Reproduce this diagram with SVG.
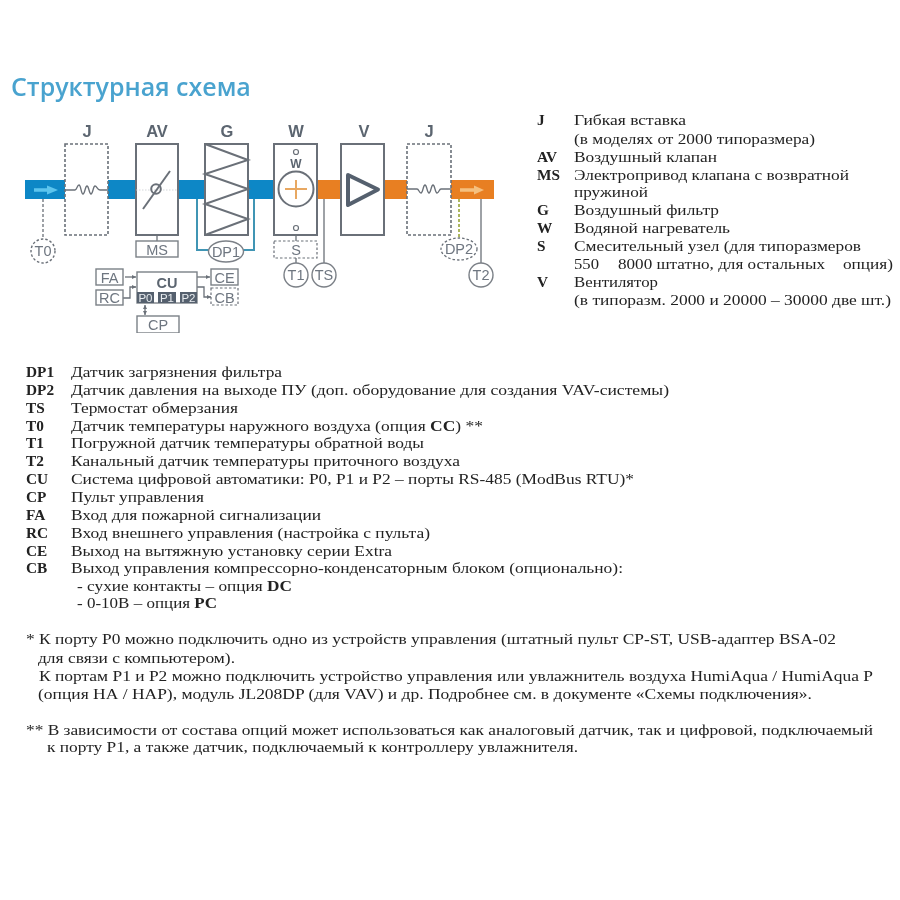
<svg xmlns="http://www.w3.org/2000/svg" width="900" height="900" viewBox="0 0 900 900">
<style>
.t{font-family:"Liberation Serif",serif;font-size:15.300px;fill:#222}
.b{font-weight:bold}
.h{font-family:"Open Sans","Liberation Sans",sans-serif;font-size:25px;font-weight:600;fill:#4aa3cf}
.l{font-family:"Liberation Sans",sans-serif;font-size:16.500px;font-weight:bold;fill:#5b6570;text-anchor:middle}
.n{font-family:"Liberation Sans",sans-serif;font-size:14.500px;fill:#6e7680;text-anchor:middle}
.box{fill:#fff;stroke:#6a7078;stroke-width:2}
.thin{fill:#fff;stroke:#7b8087;stroke-width:1.4}
.dash{fill:#fff;stroke:#6a7078;stroke-width:1.6;stroke-dasharray:3 2}
.dash2{fill:#fff;stroke:#6a7078;stroke-width:1.2;stroke-dasharray:2.5 2}
.line{fill:none;stroke:#6a7078;stroke-width:1.3}
.teal{fill:none;stroke:#3f95b4;stroke-width:2}
.blue{fill:#0f87c6}
.orange{fill:#e87f24}
.p{fill:#55616e}
.pt{font-family:"Liberation Sans",sans-serif;font-size:11.500px;fill:#e8ecf0;text-anchor:middle}
</style>
<defs>
<marker id="a" markerUnits="userSpaceOnUse" markerWidth="4" markerHeight="4" refX="4" refY="2" orient="auto"><path d="M0 0L4 2L0 4z" fill="#6a7078"/></marker>
<marker id="as" markerUnits="userSpaceOnUse" markerWidth="4" markerHeight="4" refX="0" refY="2" orient="auto"><path d="M4 0L0 2L4 4z" fill="#6a7078"/></marker>
<filter id="soft" x="0" y="0" width="100%" height="100%"><feGaussianBlur stdDeviation="0.45"/></filter>
<filter id="softer" x="0" y="0" width="100%" height="100%"><feGaussianBlur stdDeviation="0.25"/></filter>
</defs>
<rect width="900" height="900" fill="#fff"/>
<text class="h" x="11" y="96" filter="url(#soft)">Структурная схема</text>
<g filter="url(#soft)">
<g id="duct">
<rect class="blue" x="25" y="180" width="40" height="19"/>
<rect class="blue" x="108" y="180" width="28" height="19"/>
<rect class="blue" x="178" y="180" width="27" height="19"/>
<rect class="blue" x="248" y="180" width="26" height="19"/>
<rect class="orange" x="317" y="180" width="24" height="19"/>
<rect class="orange" x="384" y="180" width="23" height="19"/>
<rect class="orange" x="451" y="180" width="43" height="19"/>
<path d="M34 190H52" stroke="#5cc5ee" stroke-width="3.500" fill="none"/><path d="M47 185.500L58 190L47 194.500z" fill="#5cc5ee"/>
<path d="M460 190H478" stroke="#f5c07f" stroke-width="3.500" fill="none"/><path d="M474 185.500L484 190L474 194.500z" fill="#f5c07f"/>
</g>
<g id="connectors">
<path class="line" stroke-dasharray="3 2" stroke-width="1.6" d="M43 199V239"/>
<path class="line" d="M157 235V241"/>
<path class="teal" d="M197 199V250H209M254 199V250H243"/>
<path class="line" d="M296 235V241M296 258V263"/>
<path class="line" d="M324 199V263"/>
<path d="M459 199V238" stroke="#9aa63a" stroke-width="1.6" stroke-dasharray="3 2" fill="none"/>
<path class="line" d="M481 199V263"/>
<path class="line" marker-end="url(#a)" d="M125 277H136"/>
<path class="line" marker-end="url(#a)" d="M123 298H130V287H136"/>
<path class="line" marker-end="url(#a)" d="M197 277H210"/>
<path class="line" marker-end="url(#a)" d="M197 287H204V297H211"/>
<path class="line" marker-start="url(#as)" marker-end="url(#a)" d="M145 305V315"/>
</g>
<g id="J1"><text class="l" x="87" y="137">J</text><rect class="dash" x="65" y="144" width="43" height="91"/>
<path class="line" d="M65 190H75C77 190 77 185 79 185S81 194 83 194S85 186 87 186S89 194 91 194S93 186 95 186S97 190 100 190H108"/></g>
<g id="AV"><text class="l" x="157" y="137">AV</text><rect class="box" x="136" y="144" width="42" height="91"/>
<path d="M136 190H178" stroke="#c9cdd1" stroke-width="0.8" stroke-dasharray="1.500 1.500"/>
<circle cx="156" cy="189" r="4.800" fill="none" stroke="#6a7078" stroke-width="2"/><path d="M143 209L170 171" stroke="#6a7078" stroke-width="2"/></g>
<g id="G"><text class="l" x="227" y="137">G</text><rect class="box" x="205" y="144" width="43" height="91"/>
<path d="M205 144L248 160L205 174L248 189L205 204L248 219L205 235" fill="none" stroke="#6a7078" stroke-width="2"/></g>
<g id="W"><text class="l" x="296" y="137">W</text><rect class="box" x="274" y="144" width="43" height="91"/>
<circle cx="296" cy="152" r="2.500" fill="#fff" stroke="#6a7078" stroke-width="1.200"/>
<circle cx="296" cy="228" r="2.500" fill="#fff" stroke="#6a7078" stroke-width="1.200"/>
<text class="l" x="296" y="168" style="font-size:12px">W</text>
<circle cx="296" cy="189" r="17.500" fill="#fff" stroke="#6a7078" stroke-width="2"/>
<path d="M285 189H307M296 180V199" stroke="#e8a862" stroke-width="2" fill="none"/></g>
<g id="V"><text class="l" x="364" y="137">V</text><rect class="box" x="341" y="144" width="43" height="91"/>
<path d="M348 175L378 189.500L348 205z" fill="#fff" stroke="#55616e" stroke-width="4" stroke-linejoin="round"/></g>
<g id="J2"><text class="l" x="429" y="137">J</text><rect class="dash" x="407" y="144" width="44" height="91"/>
<path class="line" d="M407 189H417C419 189 419 193 421 193S423 185 425 185S427 193 429 193S431 185 433 185S435 193 437 193S439 189 441 189H451"/></g>
<g id="T0"><circle cx="43" cy="251" r="12" fill="#fff" stroke="#6a7078" stroke-width="1.400" stroke-dasharray="2.500 2"/><text class="n" x="43" y="256">T0</text></g>
<g id="MS"><rect class="thin" x="136" y="241" width="42" height="16"/><text class="n" x="157" y="254.500">MS</text></g>
<g id="DP1"><ellipse cx="226" cy="251.500" rx="17.500" ry="10.500" class="thin"/><text class="n" x="226" y="257">DP1</text></g>
<g id="S"><rect class="dash2" x="274" y="241" width="43" height="17"/><text class="n" x="296" y="254.500">S</text></g>
<g id="T1"><circle cx="296" cy="275" r="12" class="thin"/><text class="n" x="296" y="280">T1</text></g>
<g id="TS"><circle cx="324" cy="275" r="12" class="thin"/><text class="n" x="324" y="280">TS</text></g>
<g id="DP2"><ellipse cx="459" cy="249" rx="18" ry="11" fill="#fff" stroke="#6a7078" stroke-width="1.300" stroke-dasharray="2.500 2"/><text class="n" x="459" y="254">DP2</text></g>
<g id="T2"><circle cx="481" cy="275" r="12" class="thin"/><text class="n" x="481" y="280">T2</text></g>
<g id="FA"><rect class="thin" x="96" y="269" width="27" height="16"/><text class="n" x="109.500" y="283">FA</text></g>
<g id="RC"><rect class="thin" x="96" y="290" width="27" height="15"/><text class="n" x="109.500" y="303">RC</text></g>
<g id="CU"><rect class="thin" x="137" y="272" width="60" height="31"/>
<text class="l" x="167" y="287.500" style="font-size:14.500px">CU</text>
<rect class="p" x="137" y="292" width="17" height="11"/><rect class="p" x="158" y="292" width="18" height="11"/><rect class="p" x="180" y="292" width="17" height="11"/>
<text class="pt" x="145.500" y="301.500">P0</text><text class="pt" x="167" y="301.500">P1</text><text class="pt" x="188.500" y="301.500">P2</text></g>
<g id="CE"><rect class="thin" x="211" y="269" width="27" height="16"/><text class="n" x="224.500" y="283">CE</text></g>
<g id="CB"><rect class="dash2" x="211" y="288" width="27" height="17"/><text class="n" x="224.500" y="303">CB</text></g>
<g id="CP"><rect class="thin" x="137" y="316" width="42" height="17"/><text class="n" x="158" y="330">CP</text></g>
</g>
<g id="legend-top" filter="url(#softer)">
<text class="t b" x="537" y="125">J</text><text class="t" x="574" y="125" textLength="112" lengthAdjust="spacingAndGlyphs">Гибкая вставка</text>
<text class="t" x="574" y="144" textLength="241" lengthAdjust="spacingAndGlyphs">(в моделях от 2000 типоразмера)</text>
<text class="t b" x="537" y="162">AV</text><text class="t" x="574" y="162" textLength="143" lengthAdjust="spacingAndGlyphs">Воздушный клапан</text>
<text class="t b" x="537" y="180">MS</text><text class="t" x="574" y="180" textLength="275" lengthAdjust="spacingAndGlyphs">Электропривод клапана с возвратной</text>
<text class="t" x="574" y="197" textLength="74" lengthAdjust="spacingAndGlyphs">пружиной</text>
<text class="t b" x="537" y="215">G</text><text class="t" x="574" y="215" textLength="145" lengthAdjust="spacingAndGlyphs">Воздушный фильтр</text>
<text class="t b" x="537" y="233">W</text><text class="t" x="574" y="233" textLength="156" lengthAdjust="spacingAndGlyphs">Водяной нагреватель</text>
<text class="t b" x="537" y="251">S</text><text class="t" x="574" y="251" textLength="287" lengthAdjust="spacingAndGlyphs">Смесительный узел (для типоразмеров</text>
<text class="t" x="574" y="269" textLength="25" lengthAdjust="spacingAndGlyphs">550</text><text class="t" x="618" y="269" textLength="207" lengthAdjust="spacingAndGlyphs">8000 штатно, для остальных</text><text class="t" x="843" y="269" textLength="50" lengthAdjust="spacingAndGlyphs">опция)</text>
<text class="t b" x="537" y="287">V</text><text class="t" x="574" y="287" textLength="84" lengthAdjust="spacingAndGlyphs">Вентилятор</text>
<text class="t" x="574" y="305" textLength="317" lengthAdjust="spacingAndGlyphs">(в типоразм. 2000 и 20000 – 30000 две шт.)</text>
</g>
<g id="legend-bottom" filter="url(#softer)">
<text class="t b" x="26" y="377">DP1</text><text class="t" x="71" y="377" textLength="211" lengthAdjust="spacingAndGlyphs">Датчик загрязнения фильтра</text>
<text class="t b" x="26" y="395">DP2</text><text class="t" x="71" y="395" textLength="598" lengthAdjust="spacingAndGlyphs">Датчик давления на выходе ПУ (доп. оборудование для создания VAV-системы)</text>
<text class="t b" x="26" y="413">TS</text><text class="t" x="71" y="413" textLength="167" lengthAdjust="spacingAndGlyphs">Термостат обмерзания</text>
<text class="t b" x="26" y="431">T0</text><text class="t" x="71" y="431" textLength="412" lengthAdjust="spacingAndGlyphs">Датчик температуры наружного воздуха (опция <tspan class="b">СС</tspan>) **</text>
<text class="t b" x="26" y="448">T1</text><text class="t" x="71" y="448" textLength="353" lengthAdjust="spacingAndGlyphs">Погружной датчик температуры обратной воды</text>
<text class="t b" x="26" y="466">T2</text><text class="t" x="71" y="466" textLength="389" lengthAdjust="spacingAndGlyphs">Канальный датчик температуры приточного воздуха</text>
<text class="t b" x="26" y="484">CU</text><text class="t" x="71" y="484" textLength="563" lengthAdjust="spacingAndGlyphs">Система цифровой автоматики: P0, P1 и P2 – порты RS-485 (ModBus RTU)*</text>
<text class="t b" x="26" y="502">CP</text><text class="t" x="71" y="502" textLength="133" lengthAdjust="spacingAndGlyphs">Пульт управления</text>
<text class="t b" x="26" y="520">FA</text><text class="t" x="71" y="520" textLength="250" lengthAdjust="spacingAndGlyphs">Вход для пожарной сигнализации</text>
<text class="t b" x="26" y="538">RC</text><text class="t" x="71" y="538" textLength="359" lengthAdjust="spacingAndGlyphs">Вход внешнего управления (настройка с пульта)</text>
<text class="t b" x="26" y="556">CE</text><text class="t" x="71" y="556" textLength="321" lengthAdjust="spacingAndGlyphs">Выход на вытяжную установку серии Extra</text>
<text class="t b" x="26" y="573">CB</text><text class="t" x="71" y="573" textLength="552" lengthAdjust="spacingAndGlyphs">Выход управления компрессорно-конденсаторным блоком (опционально):</text>
<text class="t" x="77" y="591" textLength="215" lengthAdjust="spacingAndGlyphs">- сухие контакты – опция <tspan class="b">DC</tspan></text>
<text class="t" x="77" y="608" textLength="140" lengthAdjust="spacingAndGlyphs">- 0-10В – опция <tspan class="b">PC</tspan></text>
</g>
<g id="notes" filter="url(#softer)">
<text class="t" x="26" y="644" textLength="810" lengthAdjust="spacingAndGlyphs">* К порту P0 можно подключить одно из устройств управления (штатный пульт CP-ST, USB-адаптер BSA-02</text>
<text class="t" x="38" y="663" textLength="197" lengthAdjust="spacingAndGlyphs">для связи с компьютером).</text>
<text class="t" x="39" y="681" textLength="834" lengthAdjust="spacingAndGlyphs">К портам P1 и P2 можно подключить устройство управления или увлажнитель воздуха HumiAqua /  HumiAqua P</text>
<text class="t" x="38" y="699" textLength="774" lengthAdjust="spacingAndGlyphs">(опция НА / НАР), модуль JL208DP (для VAV) и др. Подробнее см. в документе «Схемы подключения».</text>
<text class="t" x="26" y="735" textLength="847" lengthAdjust="spacingAndGlyphs">** В зависимости от состава опций может использоваться как аналоговый датчик, так и цифровой, подключаемый</text>
<text class="t" x="47" y="752" textLength="531" lengthAdjust="spacingAndGlyphs">к порту P1, а также датчик, подключаемый к контроллеру увлажнителя.</text>
</g>
</svg>
